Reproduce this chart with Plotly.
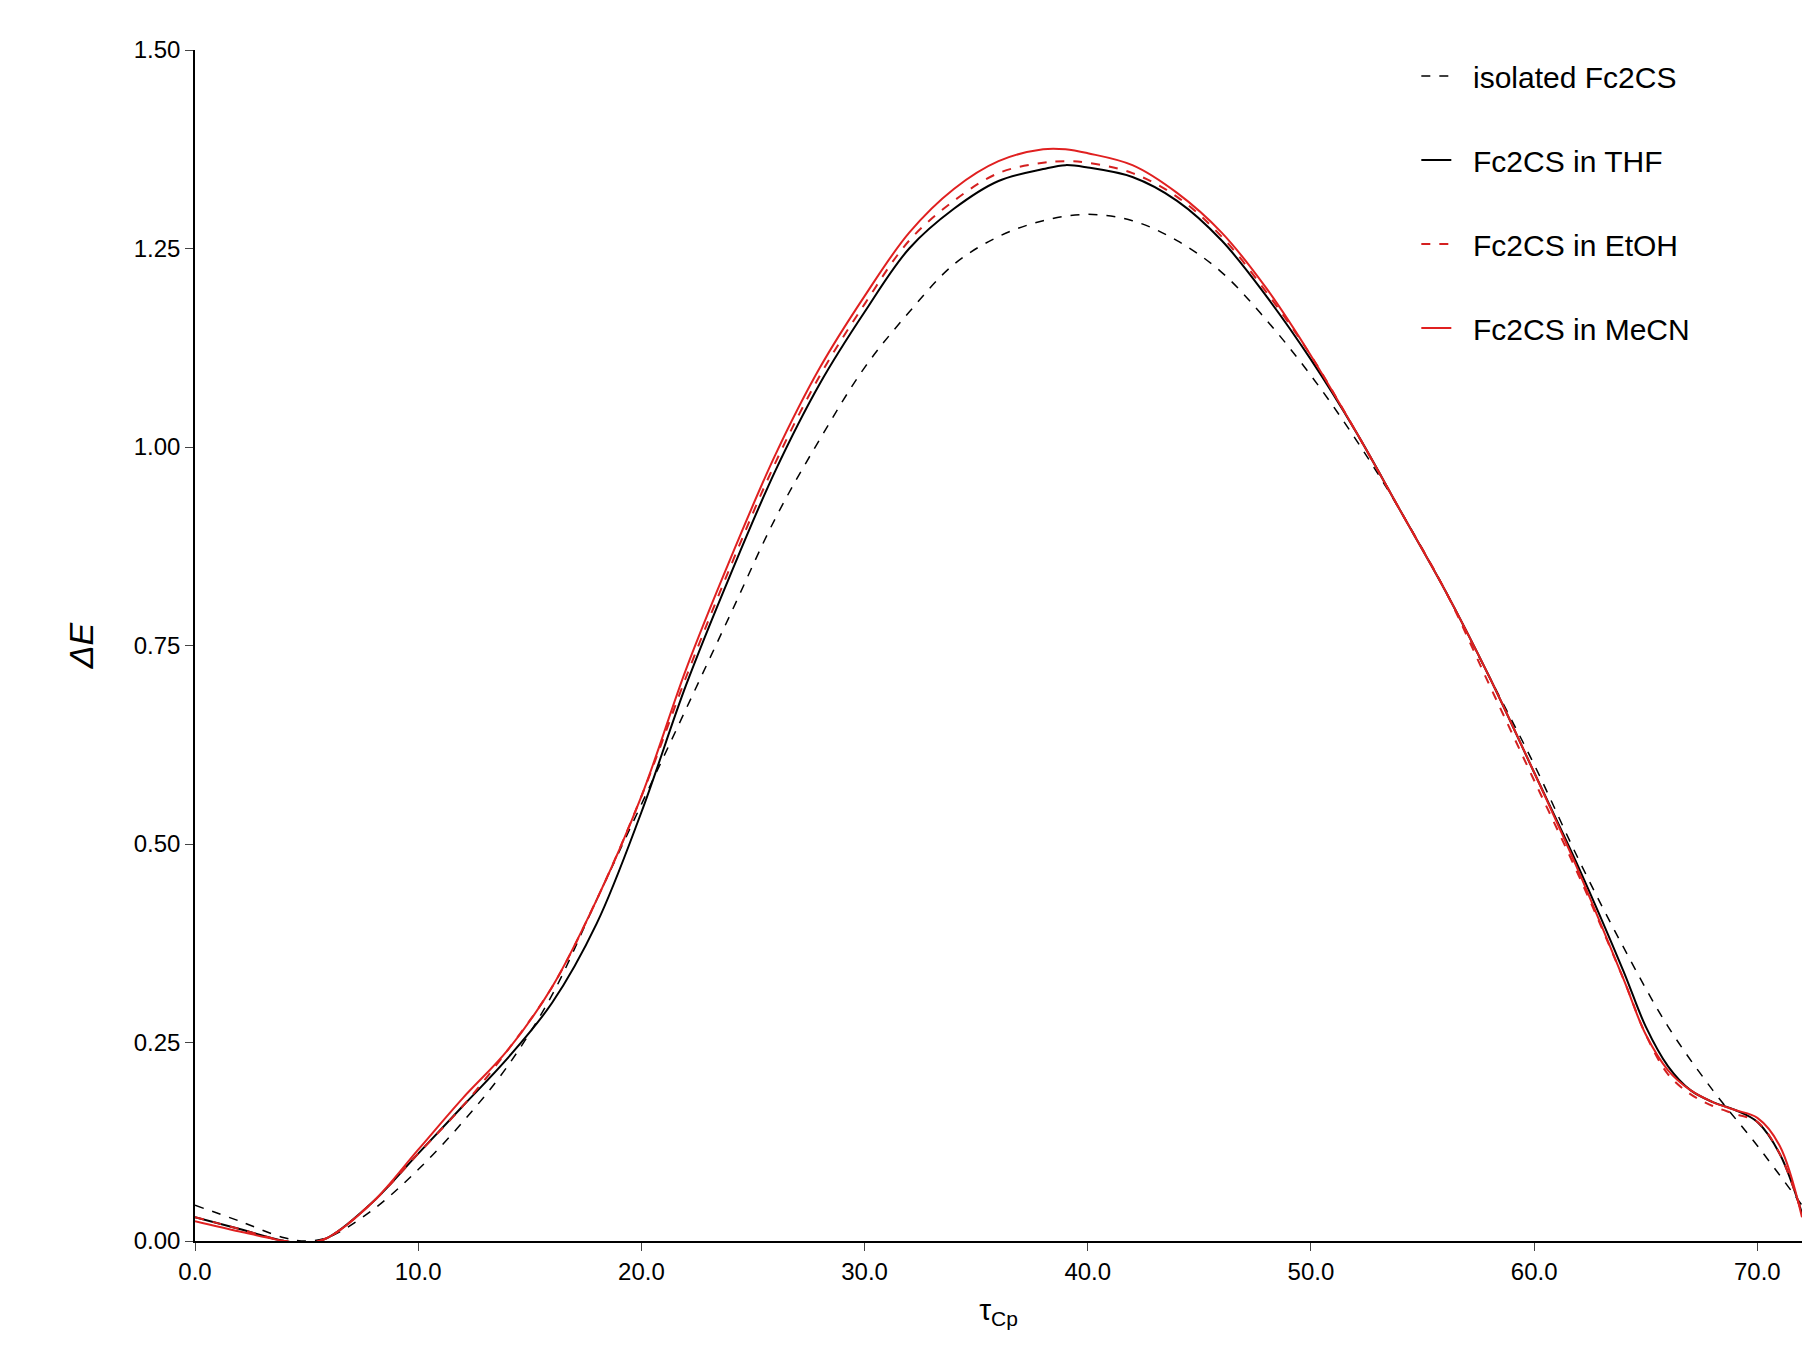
import plotly.graph_objects as go

x_iso = [0,2,4,5,6,8,10,12,14,16,18,20,22,24,26,28,30,32,34,36,38,40,42,44,46,48,50,52,54,56,58,60,62,64,66,68,70,72]
y_iso = [0.045,0.025,0.004,0.0,0.005,0.04,0.09,0.15,0.22,0.31,0.43,0.55,0.67,0.79,0.91,1.01,1.10,1.17,1.23,1.265,1.285,1.293,1.285,1.26,1.22,1.16,1.09,1.01,0.92,0.82,0.71,0.60,0.48,0.37,0.27,0.19,0.12,0.045]

x_s = [0,2,4,5,6,8,10,12,14,16,18,20,22,24,26,28,30,32,34,36,38,39,40,42,44,46,48,50,52,54,56,58,60,62,64,65,66,67,68,69,70,71,72]
y_thf = [0.03,0.015,0.0,-0.003,0.005,0.05,0.11,0.17,0.23,0.30,0.40,0.54,0.70,0.84,0.97,1.08,1.17,1.25,1.30,1.335,1.35,1.355,1.352,1.34,1.31,1.26,1.19,1.11,1.02,0.92,0.82,0.71,0.59,0.47,0.34,0.27,0.22,0.19,0.175,0.165,0.15,0.11,0.035]
y_etoh = [0.03,0.015,0.0,-0.003,0.005,0.05,0.11,0.17,0.24,0.32,0.43,0.56,0.71,0.85,0.98,1.09,1.18,1.26,1.31,1.345,1.358,1.36,1.358,1.345,1.315,1.265,1.195,1.115,1.02,0.92,0.82,0.70,0.58,0.46,0.33,0.26,0.21,0.185,0.17,0.16,0.15,0.11,0.035]
y_mecn = [0.025,0.012,0.0,-0.003,0.005,0.05,0.115,0.18,0.24,0.32,0.43,0.56,0.72,0.86,0.99,1.10,1.19,1.27,1.325,1.36,1.375,1.375,1.37,1.355,1.32,1.27,1.20,1.115,1.02,0.92,0.82,0.71,0.59,0.465,0.33,0.26,0.215,0.19,0.175,0.165,0.155,0.12,0.03]

fig = go.Figure()
fig.add_trace(go.Scatter(x=x_iso, y=y_iso, mode="lines", name="  isolated Fc2CS", legendgroup="a",
                         line=dict(color="black", width=1.5, dash="dash", shape="spline")))
fig.add_trace(go.Scatter(x=x_s, y=y_thf, mode="lines", name="  Fc2CS in THF", legendgroup="b",
                         line=dict(color="black", width=2, shape="spline")))
fig.add_trace(go.Scatter(x=x_s, y=y_etoh, mode="lines", name="  Fc2CS in EtOH", legendgroup="c",
                         line=dict(color="#d42020", width=2, dash="dash", shape="spline")))
fig.add_trace(go.Scatter(x=x_s, y=y_mecn, mode="lines", name="  Fc2CS in MeCN", legendgroup="d",
                         line=dict(color="#e02020", width=2, shape="spline")))

fig.update_layout(
    width=1812, height=1368, plot_bgcolor="white", paper_bgcolor="white",
    font=dict(family="Liberation Sans, Arial", size=24, color="black"),
    margin=dict(l=187, r=18, t=42, b=135),
    legend=dict(x=0.76, y=1.0, xanchor="left", yanchor="top", bgcolor="rgba(0,0,0,0)",
                font=dict(size=30), tracegroupgap=42),
    showlegend=True,
)
fig.update_xaxes(range=[0,72], tickvals=[0,10,20,30,40,50,60,70], tickformat=".1f",
                 showline=True, linecolor="black", linewidth=1.5, ticks="outside", ticklen=8,
                 showgrid=False, zeroline=False, title=dict(text="τ<sub>Cp</sub>", font=dict(size=30)))
fig.update_yaxes(range=[0,1.5], tickvals=[0,0.25,0.5,0.75,1.0,1.25,1.5], tickformat=".2f",
                 showline=True, linecolor="black", linewidth=1.5, ticks="outside", ticklen=8,
                 showgrid=False, zeroline=False, title=dict(text="<i>ΔE</i>", font=dict(size=34), standoff=30))
fig.write_html("out.html")
